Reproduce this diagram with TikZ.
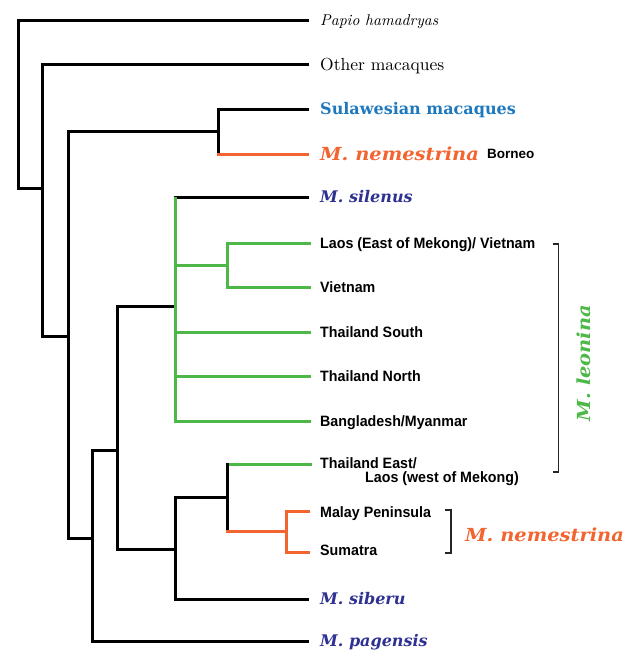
\documentclass[tikz,border=0pt]{standalone}
\usepackage{fontspec}
\usetikzlibrary{positioning}
\newfontfamily\locfont[FakeStretch=0.95]{Liberation Sans}
\newfontfamily\plainsans{Liberation Sans}
\newfontfamily\spfont{DejaVu Serif}
\newfontfamily\spwide[FakeStretch=1.08]{DejaVu Serif}
\newfontfamily\lmten{lmroman10-regular.otf}[ItalicFont=lmroman10-italic.otf]
\definecolor{orgc}{RGB}{242,101,49}
\definecolor{grnc}{RGB}{77,184,72}
\definecolor{bluc}{RGB}{30,120,190}
\definecolor{navc}{RGB}{46,49,146}
\begin{document}
\begin{tikzpicture}[x=1pt,y=-1pt,
  edge/.style={line width=3pt, line join=miter},
  blkline/.style={edge, draw=black},
  grnline/.style={edge, draw=grnc},
  orgline/.style={edge, draw=orgc},
  lab/.style={inner sep=0pt, anchor=west, text depth=0pt},
  loc/.style={lab, font=\locfont\bfseries\fontsize{15}{17}\selectfont, text height=10.7pt},
  bsans/.style={lab, font=\plainsans\bfseries\fontsize{13.5}{16}\selectfont, text height=9.7pt},
  spit/.style={lab, font=\spfont\bfseries\itshape\fontsize{16}{19}\selectfont, text height=11.6pt},
  spbig/.style={lab, font=\spwide\bfseries\itshape\fontsize{18}{21}\selectfont, text height=13.1pt},
  spup/.style={lab, font=\spfont\bfseries\fontsize{16}{19}\selectfont, text height=11.6pt},
  rm/.style={lab, font=\lmten\fontsize{17.5}{20}\selectfont, text height=12pt},
  rmit/.style={lab, font=\lmten\itshape\fontsize{15.6}{19}\selectfont, text height=10.7pt},
  brk/.style={line width=1.3pt, draw=black!85},
]
\useasboundingbox (0,0) rectangle (633,651);

% leaf ends
\coordinate (e-pap) at (309,20);
\coordinate (e-oth) at (309,64);
\coordinate (e-sul) at (309,109);
\coordinate (e-bor) at (309,154);
\coordinate (e-sil) at (309,197);
\coordinate (e-lao) at (311,243);
\coordinate (e-vie) at (311,287);
\coordinate (e-ths) at (311,332);
\coordinate (e-thn) at (311,376);
\coordinate (e-ban) at (311,421);
\coordinate (e-the) at (312,464);
\coordinate (e-mal) at (310,511);
\coordinate (e-sum) at (310,552);
\coordinate (e-sib) at (309,599);
\coordinate (e-pag) at (309,641);

% internal nodes
\coordinate (n-a) at (18,188);
\coordinate (n-b) at (42,188);
\coordinate (n-c) at (68,336);
\coordinate (n-d) at (218,131);
\coordinate (n-e) at (92,538);
\coordinate (n-f) at (117,450);
\coordinate (n-g) at (175,306);
\coordinate (n-h) at (175,549);
\coordinate (n-i) at (227,265);
\coordinate (n-j) at (227,497);
\coordinate (n-k) at (286,531);

% tree
\draw[blkline] (e-pap) -| (n-a) -- (n-b);
\draw[blkline] (e-oth) -| (n-b) |- (n-c);
\draw[blkline] (n-d) -| (n-c) |- (n-e);
\draw[blkline] (e-sul) -| (n-d) -- (n-d |- e-bor);
\draw[orgline, shorten <=-1.5pt] (n-d |- e-bor) -- (e-bor);
\draw[blkline] (n-f) -| (n-e) |- (e-pag);
\draw[blkline] (n-g) -| (n-f) |- (n-h);
\draw[blkline, shorten <=-1.5pt] (n-g |- e-sil) -- (e-sil);
\draw[grnline] (n-g |- e-sil) |- (e-ban);
\draw[grnline] (n-g |- n-i) -- (n-i);
\draw[grnline] (e-lao) -| (n-i) |- (e-vie);
\draw[grnline] (n-g |- e-ths) -- (e-ths);
\draw[grnline] (n-g |- e-thn) -- (e-thn);
\draw[blkline] (n-j) -| (n-h) |- (e-sib);
\draw[grnline] (n-j |- e-the) -- (e-the);
\draw[blkline, shorten <=-1.5pt] (n-j |- e-the) -- (n-j |- n-k);
\draw[orgline, shorten <=-1.5pt] (n-j |- n-k) -- (n-k);
\draw[orgline] (e-mal) -| (n-k) |- (e-sum);

% labels
\node[rmit] (t-pap) at (320,20) {Papio hamadryas};
\node[rm] (t-oth) at (320,64) {Other macaques};
\node[spup, text=bluc] (t-sul) at (320,109) {Sulawesian macaques};
\node[spbig, text=orgc] (t-bor) at (320,154) {M. nemestrina};
\node[bsans] (t-borneo) at (487,154) {Borneo};
\node[spit, text=navc] (t-sil) at (320,197) {M. silenus};
\node[loc] (t-lao) at (320,243) {Laos (East of Mekong)/ Vietnam};
\node[loc] (t-vie) at (320,287) {Vietnam};
\node[loc] (t-ths) at (320,332) {Thailand South};
\node[loc] (t-thn) at (320,376) {Thailand North};
\node[loc] (t-ban) at (320,421) {Bangladesh/Myanmar};
\node[loc] (t-the) at (320,463) {Thailand East/};
\node[loc] (t-the2) at (365,477) {Laos (west of Mekong)};
\node[loc] (t-mal) at (320,512) {Malay Peninsula};
\node[loc] (t-sum) at (320,550) {Sumatra};
\node[spit, text=navc] (t-sib) at (320,599) {M. siberu};
\node[spit, text=navc] (t-pag) at (320,641) {M. pagensis};

% brackets
\coordinate (b-l1) at (553,244);
\coordinate (b-l2) at (553,472);
\draw[brk] (b-l1) -- ++(5.5,0) |- (b-l2);
\node[spbig, text=grnc, rotate=90, anchor=center] (t-leo) at (584,363) {M. leonina};
\coordinate (b-n1) at (445,510);
\coordinate (b-n2) at (445,553);
\draw[brk] (b-n1) -- ++(6,0) |- (b-n2);
\node[spbig, text=orgc] (t-nem) at (465,535) {M. nemestrina};
\end{tikzpicture}
\end{document}
